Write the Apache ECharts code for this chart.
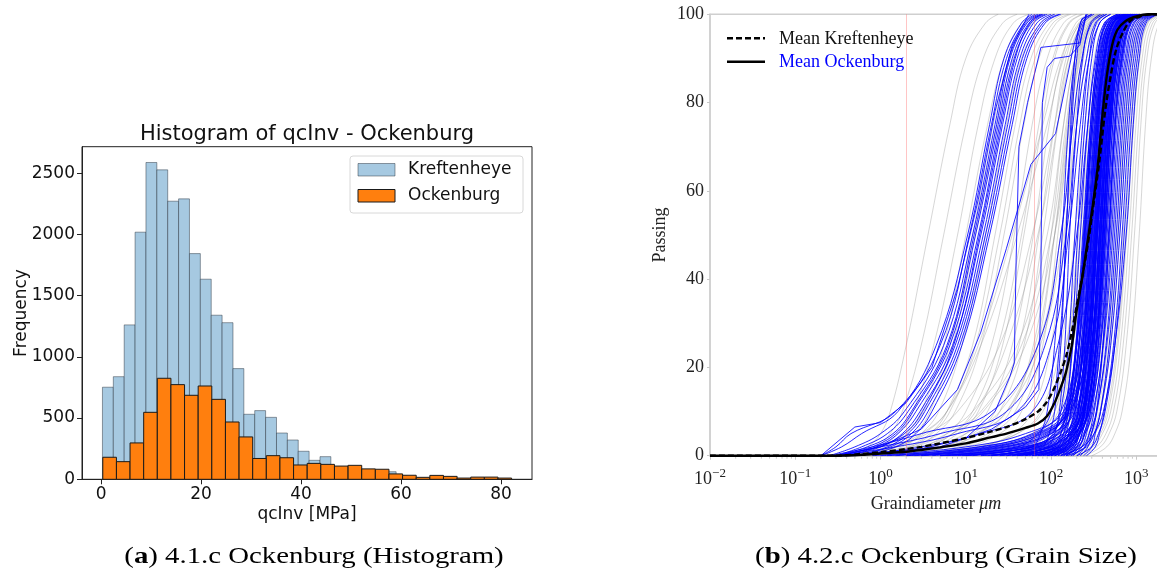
<!DOCTYPE html>
<html>
<head>
<meta charset="utf-8">
<script src="https://cdn.jsdelivr.net/npm/echarts@6/dist/echarts.min.js"></script>
<style>
html, body { margin: 0; padding: 0; background: #fff; }
#chart { width: 1157px; height: 572px; }
</style>
</head>
<body>
<div id="chart"></div>
<script>
// ---------- (a) histogram of qcInv ----------
const KREFT_BIN_START = 0.26;
const KREFT_BIN_WIDTH = 2.176;
const OCK_BIN_START = 0.33;
const OCK_BIN_WIDTH = 2.726;
const kreftCounts = [752, 838, 1261, 2018, 2587, 2527, 2271, 2290, 1843, 1634,
                     1340, 1279, 904, 531, 561, 506, 378, 321, 229, 155,
                     185, 100, 95, 80, 78, 72, 62, 28, 12, 8];
const ockCounts = [180, 144, 297, 547, 825, 773, 686, 762, 653, 468,
                   346, 170, 193, 176, 117, 130, 122, 108, 114, 85,
                   82, 44, 33, 16, 32, 24, 10, 18, 18, 10];
const histXTicks = [0, 20, 40, 60, 80];

// ---------- (b) grain size distributions ----------
// passing percentages at which each curve's grain diameters (um) are listed
const PASS_LEVELS = [0, 2, 5, 10, 25, 50, 75, 90, 98, 100];

// Kreftenheye samples
const kreftCurves = [
  [0.4, 0.7, 1.0, 1.3, 2.0, 3.6, 6.5, 10, 17, 24],
  [0.5, 0.9, 1.3, 1.8, 3.0, 5.5, 10, 16, 27, 40],
  [0.5, 1.0, 1.6, 2.4, 4.2, 8, 14, 22, 36, 55],
  [0.6, 1.2, 2.0, 3.0, 5.5, 10, 18, 28, 45, 70],
  [0.7, 1.5, 2.5, 3.8, 7, 13, 23, 36, 60, 90],
  [0.8, 1.8, 3.0, 4.8, 9, 17, 30, 45, 75, 110],
  [0.8, 2.0, 3.8, 6, 12, 22, 38, 58, 95, 140],
  [1.0, 2.5, 4.5, 7.5, 15, 28, 48, 72, 115, 170],
  [1.0, 3.0, 6, 10, 20, 37, 60, 90, 140, 200],
  [1.2, 4, 8, 14, 27, 48, 78, 110, 165, 240],
  [1.5, 5, 10, 18, 35, 62, 95, 135, 195, 280],
  [1.5, 6, 14, 25, 48, 80, 120, 160, 230, 320],
  [2, 8, 18, 33, 62, 100, 140, 190, 260, 360],
  [2, 10, 25, 45, 80, 120, 165, 215, 290, 400],
  [3, 15, 35, 60, 100, 145, 190, 240, 320, 440],
  [0.8, 2.2, 5, 12, 40, 90, 140, 190, 270, 380],
  [1, 4, 10, 25, 70, 130, 180, 230, 310, 420],
  [0.6, 1.5, 3.5, 8, 25, 60, 110, 160, 240, 350],
  [1.2, 3.5, 7, 13, 30, 70, 120, 170, 250, 360],
  [0.7, 1.6, 3.2, 6, 14, 35, 80, 130, 210, 300],
  [2, 6, 14, 30, 65, 110, 160, 210, 290, 400],
  [0.9, 2.5, 6, 15, 45, 100, 150, 200, 280, 390],
  [0.5, 1.1, 1.9, 3.2, 6.5, 12, 21, 32, 52, 80],
  [0.9, 2.2, 4, 6.5, 13, 25, 43, 65, 105, 160],
  [1.3, 3.5, 7, 12, 24, 45, 72, 105, 160, 230],
  [1.8, 5.5, 12, 22, 42, 72, 110, 150, 215, 300],
  [2.5, 9, 20, 38, 70, 110, 155, 205, 280, 380],
  [0.6, 1.4, 3, 6, 15, 40, 90, 140, 220, 320],
  [1.1, 3, 7, 16, 50, 110, 165, 220, 300, 420],
  [1.6, 5, 13, 30, 75, 140, 200, 260, 350, 480],
  [3, 14, 40, 75, 130, 190, 250, 320, 420, 600],
  [5, 30, 70, 110, 160, 220, 290, 370, 480, 700],
  [10, 50, 100, 140, 200, 270, 350, 440, 570, 820],
  [20, 70, 120, 170, 240, 320, 410, 510, 650, 950],
  [40, 100, 150, 200, 280, 370, 470, 580, 740, 1100],
  [60, 130, 180, 240, 330, 430, 540, 660, 840, 1250],
  [80, 160, 220, 290, 390, 500, 620, 760, 960, 1400],
  [100, 200, 270, 350, 460, 590, 720, 870, 1100, 1600],
  [150, 250, 330, 420, 550, 700, 850, 1020, 1270, 1800],
  [200, 310, 400, 500, 650, 820, 990, 1170, 1450, 2000],
  [250, 380, 480, 590, 760, 950, 1130, 1330, 1650, 2200],
  [300, 450, 560, 680, 870, 1080, 1280, 1500, 1850, 2400],
  [30, 90, 140, 180, 230, 290, 360, 440, 560, 800],
  [50, 120, 170, 215, 275, 345, 425, 515, 650, 930],
  [15, 60, 110, 160, 225, 300, 390, 490, 640, 950],
  [70, 150, 210, 270, 355, 450, 560, 680, 860, 1250],
  [120, 220, 300, 380, 500, 640, 780, 940, 1180, 1700],
  [8, 40, 90, 130, 180, 240, 310, 390, 500, 720],
  [3, 20, 60, 100, 150, 210, 280, 360, 470, 680],
  [25, 80, 130, 175, 245, 330, 420, 520, 670, 980],
  [180, 290, 380, 470, 610, 770, 930, 1100, 1370, 1900],
  [90, 180, 250, 320, 420, 540, 670, 810, 1020, 1500],
  [2, 12, 40, 80, 150, 230, 320, 420, 560, 820],
  [4, 25, 65, 110, 180, 260, 350, 450, 590, 860],
  [6, 30, 75, 120, 180, 250, 330, 420, 550, 800],
  [12, 55, 110, 160, 230, 310, 400, 500, 650, 950],
  [35, 110, 170, 220, 300, 390, 490, 600, 770, 1100],
  [110, 210, 290, 370, 480, 610, 750, 900, 1130, 1650],
  [160, 270, 360, 450, 590, 750, 910, 1080, 1340, 1900],
  [220, 340, 440, 540, 700, 880, 1060, 1250, 1550, 2100],
  [45, 115, 165, 205, 260, 325, 400, 490, 620, 900],
  [65, 140, 195, 245, 315, 395, 490, 600, 760, 1100],
  [20, 75, 125, 165, 215, 275, 345, 425, 545, 790]
];

// Ockenburg samples
const ockCurves = [
  // fine (clayey / silty) samples
  [0.2, 0.35, 0.6, 1.6, 4.5, 10.5, 19, 28, 45, 60],
  [0.2, 0.3, 0.45, 1.5, 5, 11, 20, 30, 48, 65],
  [0.25, 0.5, 1.0, 1.9, 5.5, 12, 22, 32, 50, 70],
  [0.3, 0.6, 1.2, 2.1, 6, 12.5, 23, 33, 52, 75],
  [0.3, 0.7, 1.4, 2.3, 6.2, 13, 24, 35, 55, 80],
  [0.35, 0.8, 1.5, 2.4, 6.5, 14, 25, 37, 58, 85],
  [0.4, 0.9, 1.6, 2.6, 7, 15, 27, 40, 62, 90],
  [0.4, 1.0, 1.8, 2.9, 7.5, 16, 29, 43, 68, 100],
  [0.5, 1.2, 2.1, 3.3, 8, 17, 31, 46, 75, 110],
  [0.5, 1.3, 2.3, 3.6, 8.5, 18, 33, 49, 80, 125],
  [0.3, 0.9, 1.9, 3.1, 7.2, 14.5, 26, 38, 56, 78],
  [0.6, 1.5, 2.6, 4.0, 9, 19, 35, 52, 85, 130],
  // sands with a silty tail
  [0.25, 0.8, 3, 20, 70, 130, 180, 230, 300, 420],
  [0.3, 1.5, 8, 40, 100, 160, 220, 280, 370, 500],
  [0.5, 3, 15, 60, 120, 200, 270, 340, 450, 650],
  [0.3, 1.0, 5, 30, 85, 150, 200, 260, 330, 450],
  // sands
  [20, 60, 75, 90, 110, 135, 160, 190, 230, 300],
  [50, 80, 95, 110, 130, 150, 175, 200, 240, 320],
  [5, 40, 70, 100, 125, 150, 170, 190, 220, 270],
  [40, 90, 110, 125, 145, 165, 200, 235, 290, 380],
  [20, 70, 105, 130, 160, 190, 235, 280, 340, 450],
  [60, 110, 130, 150, 175, 205, 250, 300, 370, 500],
  [5, 40, 100, 140, 180, 220, 270, 330, 420, 600],
  [80, 120, 140, 160, 195, 235, 290, 350, 430, 600],
  [10, 60, 115, 150, 200, 245, 300, 370, 480, 700],
  [100, 130, 150, 170, 210, 255, 310, 380, 470, 650],
  [3, 30, 90, 150, 210, 265, 330, 400, 500, 750],
  [90, 140, 160, 185, 225, 275, 335, 410, 520, 800],
  [30, 100, 150, 190, 235, 285, 345, 420, 530, 750],
  [120, 150, 170, 195, 240, 290, 355, 430, 540, 800],
  [8, 50, 120, 180, 240, 300, 370, 450, 570, 850],
  [100, 150, 175, 205, 250, 310, 380, 460, 580, 850],
  [50, 120, 165, 210, 260, 320, 390, 470, 600, 900],
  [130, 165, 190, 220, 270, 330, 400, 480, 600, 850],
  [2, 20, 80, 170, 260, 335, 410, 500, 640, 950],
  [110, 160, 190, 225, 280, 345, 420, 510, 650, 950],
  [60, 130, 180, 230, 290, 355, 430, 520, 660, 1000],
  [140, 180, 205, 240, 300, 365, 440, 530, 670, 1000],
  [20, 90, 160, 230, 300, 375, 455, 550, 700, 1050],
  [150, 190, 215, 250, 315, 385, 465, 560, 710, 1050],
  [70, 150, 200, 250, 320, 400, 480, 580, 730, 1100],
  [160, 200, 230, 265, 335, 410, 495, 600, 750, 1100],
  [40, 120, 190, 260, 340, 425, 510, 620, 780, 1150],
  [170, 215, 245, 280, 355, 440, 530, 640, 800, 1200],
  [90, 170, 220, 275, 360, 455, 550, 660, 830, 1200],
  [180, 230, 260, 300, 380, 475, 570, 690, 860, 1250],
  [15, 80, 180, 280, 380, 490, 590, 710, 880, 1300],
  [200, 250, 280, 320, 405, 510, 615, 740, 920, 1350],
  [100, 200, 250, 310, 410, 530, 640, 770, 950, 1400],
  [220, 270, 300, 345, 440, 555, 670, 800, 1000, 1450],
  [130, 230, 280, 340, 450, 580, 700, 840, 1050, 1500],
  [240, 300, 330, 380, 480, 610, 740, 880, 1100, 1550],
  [150, 260, 320, 380, 500, 640, 780, 930, 1150, 1600],
  [260, 330, 370, 420, 540, 680, 820, 980, 1200, 1700],
  [200, 300, 360, 430, 560, 720, 870, 1030, 1250, 1750],
  [120, 230, 320, 410, 560, 760, 920, 1080, 1300, 1800],
  [30, 100, 140, 170, 215, 260, 320, 390, 500, 720],
  [70, 130, 160, 190, 235, 280, 340, 415, 520, 760],
  [50, 110, 170, 210, 255, 305, 365, 440, 560, 820],
  [90, 150, 185, 220, 270, 325, 385, 460, 580, 860],
  [10, 60, 140, 200, 265, 340, 410, 490, 620, 900],
  [110, 170, 200, 235, 285, 350, 425, 505, 640, 920],
  [40, 130, 190, 240, 300, 370, 445, 530, 670, 980],
  [130, 185, 215, 250, 310, 380, 460, 550, 690, 1000],
  [25, 100, 170, 235, 310, 395, 475, 570, 710, 1050],
  [150, 200, 230, 270, 330, 405, 490, 590, 740, 1100],
  [80, 160, 210, 265, 340, 420, 505, 610, 760, 1100],
  [1, 15, 60, 130, 200, 250, 300, 360, 450, 650],
  [4, 35, 95, 145, 195, 240, 290, 350, 440, 620],
  [12, 55, 110, 160, 215, 270, 325, 395, 500, 730],
  [2, 25, 85, 155, 225, 280, 340, 410, 520, 780],
  [6, 45, 125, 175, 235, 295, 355, 430, 545, 800],
  [1.5, 18, 70, 160, 245, 315, 380, 460, 580, 860],
  [9, 65, 150, 205, 270, 335, 400, 480, 610, 900],
  [3, 28, 100, 190, 275, 350, 420, 505, 640, 950],
  [15, 90, 170, 230, 300, 370, 445, 530, 670, 1000],
  [5, 50, 140, 215, 300, 385, 465, 560, 710, 1050],
  [25, 110, 190, 255, 335, 420, 500, 600, 760, 1100],
  [7, 70, 165, 245, 340, 440, 530, 640, 810, 1200],
  [35, 130, 210, 280, 370, 470, 565, 680, 860, 1250],
  [60, 140, 180, 210, 250, 295, 350, 420, 530, 760],
  [45, 125, 175, 220, 275, 330, 395, 475, 600, 880],
  [75, 155, 200, 240, 290, 345, 410, 490, 620, 900],
  [55, 145, 195, 245, 305, 365, 435, 520, 655, 950],
  [85, 170, 220, 265, 320, 385, 455, 545, 685, 1000],
  [65, 160, 215, 270, 335, 405, 480, 575, 720, 1050],
  [95, 185, 240, 290, 355, 430, 510, 610, 765, 1100],
  [0.8, 10, 50, 140, 230, 300, 360, 430, 540, 780],
  [1.2, 14, 65, 150, 250, 320, 385, 460, 580, 840],
  [2.5, 22, 75, 165, 265, 345, 415, 495, 625, 900],
  [110, 175, 210, 245, 290, 340, 400, 475, 600, 870],
  [140, 210, 250, 290, 345, 410, 485, 575, 720, 1050],
  [170, 250, 295, 340, 405, 480, 565, 670, 840, 1200],
  [35, 95, 130, 160, 200, 245, 300, 365, 470, 680],
  [18, 75, 120, 155, 200, 250, 310, 380, 490, 710]
];

// Ockenburg samples with irregular, stepped gradings ([diameter, passing])
const ockIrregular = [
  [[0.3, 0], [1, 2], [3, 6], [8, 15], [15, 28], [30, 47], [58, 66], [113, 73], [185, 93], [230, 99], [300, 100]],
  [[0.5, 0], [3, 1.5], [10, 4], [22, 10], [33, 18], [37, 21], [39, 45], [42, 70], [53, 80], [76, 92.5], [218, 93.5], [256, 100]],
  [[0.4, 0], [5, 2], [20, 6], [50, 11], [72, 15], [76, 40], [79, 80], [90, 88], [110, 90], [165, 90.5], [217, 93], [260, 100]],
  [[0.2, 0], [0.5, 6.5], [1, 7.5], [2, 12], [4, 20], [8, 38], [14, 58], [22, 78], [35, 93], [55, 100]]
];

// mean grading curves ([diameter, passing])
const meanKreft = [[0.01, 0], [0.3, 0], [0.6, 0.4], [1, 0.8], [2, 1.5], [3, 2], [5, 2.8], [10, 4], [20, 5.5],
                   [30, 6.5], [50, 8.3], [70, 10], [90, 12.3], [110, 15.5], [130, 19], [150, 22.5], [175, 28],
                   [200, 34], [240, 42], [280, 50], [320, 58], [370, 67], [430, 78], [500, 86], [580, 92],
                   [700, 96], [850, 98.5], [1100, 99.5], [1500, 100], [2000, 100]];
const meanOck = [[0.01, 0], [0.3, 0], [0.6, 0.2], [1, 0.5], [2, 0.9], [3, 1.3], [5, 1.9], [10, 2.8], [20, 4.2],
                 [30, 5], [50, 6.3], [70, 7.3], [90, 9], [110, 12], [130, 15.5], [150, 19], [175, 25], [200, 33],
                 [235, 41], [270, 49], [310, 57], [350, 65], [400, 77], [450, 86], [520, 93], [600, 96.5],
                 [750, 98.5], [1000, 99.5], [1400, 100], [2000, 100]];

// clay / silt boundaries (um)
const REF_DIAMETERS = [2, 63];
// minor tick positions on the diameter axis
const LOG_MINOR = [0.02, 0.03, 0.04, 0.05, 0.06, 0.07, 0.08, 0.09,
                   0.2, 0.3, 0.4, 0.5, 0.6, 0.7, 0.8, 0.9,
                   2, 3, 4, 5, 6, 7, 8, 9,
                   20, 30, 40, 50, 60, 70, 80, 90,
                   200, 300, 400, 500, 600, 700, 800, 900, 2000];

// ---------- build ----------
const SANS = 'DejaVu Sans';
const SERIF = 'Liberation Serif';

function binItems(start, width, counts) {
  return counts.map((c, i) => [start + i * width, start + (i + 1) * width, c]);
}
function binRenderer(fill, stroke) {
  return function (params, api) {
    const p0 = api.coord([api.value(0), 0]);
    const p1 = api.coord([api.value(1), api.value(2)]);
    return {
      type: 'rect',
      shape: { x: p0[0], y: p1[1], width: p1[0] - p0[0], height: p0[1] - p1[1] },
      style: { fill: fill, stroke: stroke, lineWidth: 1 }
    };
  };
}
function levelCurve(diams) {
  return diams.map((d, i) => [d, PASS_LEVELS[i]]);
}
function lineSeries(data, color, width, z, extra) {
  return Object.assign({
    type: 'line', xAxisIndex: 1, yAxisIndex: 1, data: data,
    symbol: 'none', showSymbol: false, silent: true, z: z,
    smooth: 0.4,
    lineStyle: { color: color, width: width }
  }, extra || {});
}
function logLabel(v) {
  const l = Math.log10(v);
  const e = Math.round(l);
  if (Math.abs(l - e) > 1e-6) return '';
  return '{b|10}{e|' + (e < 0 ? '\u2212' + (-e) : String(e)) + '}';
}

const series = [];
series.push({
  type: 'custom', xAxisIndex: 0, yAxisIndex: 0, silent: true, z: 2,
  renderItem: binRenderer('#a6c9e1', 'rgba(30,40,50,0.45)'),
  encode: { x: [0, 1], y: 2 },
  data: binItems(KREFT_BIN_START, KREFT_BIN_WIDTH, kreftCounts)
});
series.push({
  type: 'custom', xAxisIndex: 0, yAxisIndex: 0, silent: true, z: 3,
  renderItem: binRenderer('#ff7f0e', '#1a1a1a'),
  encode: { x: [0, 1], y: 2 },
  data: binItems(OCK_BIN_START, OCK_BIN_WIDTH, ockCounts)
});

const GREY = 'rgba(140,140,140,0.36)';
const BLUE = 'rgba(0,0,255,0.85)';
kreftCurves.forEach((c, i) => {
  const extra = i === 0 ? {
    markLine: {
      silent: true, symbol: ['none', 'none'], label: { show: false },
      lineStyle: { color: 'rgba(255,90,90,0.35)', width: 1, type: 'solid' },
      data: REF_DIAMETERS.map(v => ({ xAxis: v }))
    }
  } : null;
  series.push(lineSeries(levelCurve(c), GREY, 1, 3, extra));
});
ockCurves.forEach(c => series.push(lineSeries(levelCurve(c), BLUE, 1, 4)));
ockIrregular.forEach(c => series.push(lineSeries(c, BLUE, 1, 4, { smooth: false })));
series.push(lineSeries(meanKreft, '#000', 2.4, 6, { smooth: 0.3, lineStyle: { color: '#000', width: 2.4, type: [6, 3] } }));
series.push(lineSeries(meanOck, '#000', 2.4, 6, { smooth: 0.3 }));
series.push({
  type: 'custom', xAxisIndex: 1, yAxisIndex: 1, silent: true, z: 1,
  encode: { x: 0, y: 1 },
  data: LOG_MINOR.map(v => [v, 0]),
  renderItem: function (params, api) {
    const p = api.coord([api.value(0), 0]);
    return { type: 'line', shape: { x1: p[0], y1: p[1] + 1, x2: p[0], y2: p[1] + 3 },
             style: { stroke: '#c8c8c8', lineWidth: 1 } };
  }
});

const captionStyle = (text) => ({
  text: text, fontSize: 24, fontFamily: SERIF, fill: '#000',
  align: 'center', verticalAlign: 'middle', textAlign: 'center', textVerticalAlign: 'middle',
  rich: { b: { fontSize: 24, fontFamily: SERIF, fontWeight: 'bold', fill: '#000' } }
});

const option = {
  animation: false,
  backgroundColor: '#fff',
  grid: [
    { left: 82, top: 146.7, width: 450, height: 332.6, show: true, borderColor: '#222', borderWidth: 1,
      backgroundColor: 'transparent', containLabel: false, outerBoundsMode: 'none' },
    { left: 710, top: 14.3, width: 452, height: 441.4, show: true, borderColor: '#cfcfcf', borderWidth: 1.5,
      backgroundColor: 'transparent', containLabel: false, outerBoundsMode: 'none' }
  ],
  xAxis: [
    { type: 'value', gridIndex: 0, min: -3.83, max: 86.19,
      axisLine: { show: true, onZero: false, lineStyle: { color: '#222', width: 1 } },
      axisTick: { show: true, customValues: histXTicks, length: 5, lineStyle: { color: '#222' } },
      axisLabel: { customValues: histXTicks, fontSize: 17, fontFamily: SANS, color: '#111', margin: 7 },
      splitLine: { show: false },
      name: 'qcInv [MPa]', nameLocation: 'middle', nameGap: 27, nameMoveOverlap: false,
      nameTextStyle: { fontSize: 17, fontFamily: SANS, color: '#111' } },
    { type: 'log', gridIndex: 1, logBase: 10, min: 0.01, max: 2000,
      axisLine: { show: true, onZero: false, lineStyle: { color: '#cfcfcf', width: 1.5 } },
      axisTick: { show: true, length: 4, lineStyle: { color: '#c8c8c8' } },
      axisLabel: { formatter: logLabel, margin: 11, showMaxLabel: false,
        rich: {
          b: { fontSize: 18, fontFamily: SERIF, color: '#222', lineHeight: 26 },
          e: { fontSize: 13, fontFamily: SERIF, color: '#222', verticalAlign: 'top' }
        } },
      splitLine: { show: false }, minorTick: { show: false },
      name: 'Graindiameter {i|\u03bcm}', nameLocation: 'middle', nameGap: 40, nameMoveOverlap: false,
      nameTextStyle: { fontSize: 18, fontFamily: SERIF, color: '#222',
        rich: { i: { fontSize: 18, fontFamily: SERIF, fontStyle: 'italic', color: '#222' } } } }
  ],
  yAxis: [
    { type: 'value', gridIndex: 0, min: 0, max: 2716, interval: 500,
      axisLine: { show: true, onZero: false, lineStyle: { color: '#222', width: 1 } },
      axisTick: { show: true, length: 5, lineStyle: { color: '#222' } },
      axisLabel: { fontSize: 17, fontFamily: SANS, color: '#111', margin: 7, showMaxLabel: false,
                   formatter: v => String(v) },
      splitLine: { show: false },
      name: 'Frequency', nameLocation: 'middle', nameGap: 52, nameMoveOverlap: false,
      nameTextStyle: { fontSize: 17, fontFamily: SANS, color: '#111' } },
    { type: 'value', gridIndex: 1, min: 0, max: 100, interval: 20,
      axisLine: { show: true, onZero: false, lineStyle: { color: '#cfcfcf', width: 1.5 } },
      axisTick: { show: true, length: 3, lineStyle: { color: '#c8c8c8' } },
      axisLabel: { fontSize: 18, fontFamily: SERIF, color: '#222', margin: 6 },
      splitLine: { show: false },
      name: 'Passing', nameLocation: 'middle', nameGap: 41, nameMoveOverlap: false,
      nameTextStyle: { fontSize: 18, fontFamily: SERIF, color: '#222' } }
  ],
  series: series,
  graphic: [
    // histogram title
    { type: 'text', x: 307, y: 135, silent: true,
      style: { text: 'Histogram of qcInv - Ockenburg', fontSize: 21, fontFamily: SANS, fill: '#111',
               align: 'center', verticalAlign: 'middle', textAlign: 'center', textVerticalAlign: 'middle' } },
    // histogram legend
    { type: 'rect', shape: { x: 350, y: 156, width: 173, height: 57, r: 3 }, silent: true,
      style: { fill: 'rgba(255,255,255,0.8)', stroke: '#d8d8d8', lineWidth: 1 }, z: 10 },
    { type: 'rect', shape: { x: 358, y: 163.5, width: 37, height: 12.5 }, silent: true,
      style: { fill: '#a6c9e1', stroke: 'rgba(30,40,50,0.45)', lineWidth: 1 }, z: 11 },
    { type: 'text', x: 408, y: 170, silent: true, z: 11,
      style: { text: 'Kreftenheye', fontSize: 17, fontFamily: SANS, fill: '#111',
               verticalAlign: 'middle', textVerticalAlign: 'middle' } },
    { type: 'rect', shape: { x: 358, y: 189.5, width: 37, height: 12.5 }, silent: true,
      style: { fill: '#ff7f0e', stroke: '#1a1a1a', lineWidth: 1 }, z: 11 },
    { type: 'text', x: 408, y: 196, silent: true, z: 11,
      style: { text: 'Ockenburg', fontSize: 17, fontFamily: SANS, fill: '#111',
               verticalAlign: 'middle', textVerticalAlign: 'middle' } },
    // grain size legend
    { type: 'line', shape: { x1: 727, y1: 38.3, x2: 765, y2: 38.3 }, silent: true, z: 11,
      style: { stroke: '#000', lineWidth: 2.4, lineDash: [6, 3] } },
    { type: 'text', x: 779, y: 39, silent: true, z: 11,
      style: { text: 'Mean Kreftenheye', fontSize: 18, fontFamily: SERIF, fill: '#111',
               verticalAlign: 'middle', textVerticalAlign: 'middle' } },
    { type: 'line', shape: { x1: 727, y1: 61.7, x2: 765, y2: 61.7 }, silent: true, z: 11,
      style: { stroke: '#000', lineWidth: 2.4 } },
    { type: 'text', x: 779, y: 62.5, silent: true, z: 11,
      style: { text: 'Mean Ockenburg', fontSize: 18, fontFamily: SERIF, fill: '#0000ff',
               verticalAlign: 'middle', textVerticalAlign: 'middle' } },
    // sub-figure captions
    { type: 'text', x: 314, y: 557, scaleX: 1.2, silent: true,
      style: captionStyle('({b|a}) 4.1.c Ockenburg (Histogram)') },
    { type: 'text', x: 946, y: 557, scaleX: 1.2, silent: true,
      style: captionStyle('({b|b}) 4.2.c Ockenburg (Grain Size)') }
  ]
};

const chart = echarts.init(document.getElementById('chart'), null, { renderer: 'canvas' });
chart.setOption(option);
</script>
</body>
</html>
